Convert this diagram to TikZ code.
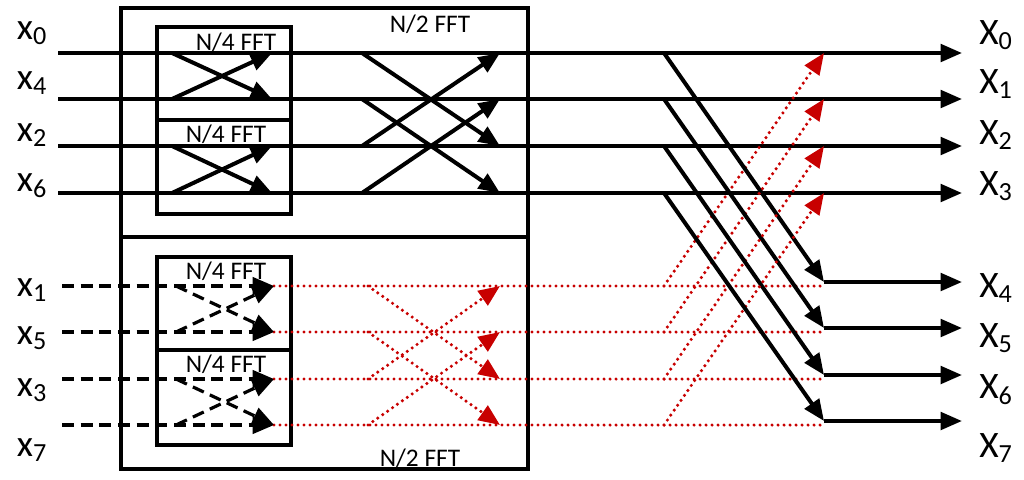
\documentclass[tikz,border=0pt]{standalone}
\usepackage{fontspec}
\setmainfont{Carlito}
\usetikzlibrary{arrows.meta}
\definecolor{fftred}{RGB}{200,0,0}

\begin{document}
\begin{tikzpicture}[x=0.75pt,y=-0.75pt,
    wire/.style={line width=3pt},
    tip/.style={-{Triangle[length=16pt,width=13pt]}},
    dwire/.style={line width=2.4pt, dash pattern=on 9pt off 5pt},
    rwire/.style={line width=2.6pt, fftred, dash pattern=on 0pt off 4.5pt, line cap=round},
    rtip/.style={-{Triangle[length=16pt,width=13pt,fftred]}},
    box/.style={draw, line width=2.4pt},
    lbl/.style={font=\fontsize{19}{19}\selectfont, inner sep=0pt},
    io/.style={font=\fontsize{28}{28}\selectfont, inner sep=0pt}]
\useasboundingbox (0,0) rectangle (1024,479);

% stage boxes
\draw [box] (121,8)   rectangle (528,237);   % upper N/2
\draw [box] (121,237) rectangle (528,469);   % lower N/2
\draw [box] (157,27)  rectangle (291,120);
\draw [box] (157,120) rectangle (291,214);
\draw [box] (157,257) rectangle (291,350);
\draw [box] (157,350) rectangle (291,445);
\node [lbl] (ha) at (430,24)  {N/2 FFT};
\node [lbl] (hb) at (420,458) {N/2 FFT};
\node [lbl] (qa) at (236,42)  {N/4 FFT};
\node [lbl] (qb) at (226,134) {N/4 FFT};
\node [lbl] (qc) at (226,271) {N/4 FFT};
\node [lbl] (qd) at (226,364) {N/4 FFT};

% rows
\foreach \i/\y in {0/53,1/99,2/146,3/193} {
  \coordinate (u\i) at (58,\y);  \coordinate (ua\i) at (172,\y);
  \coordinate (ub\i) at (272,\y); \coordinate (uc\i) at (362,\y);
  \coordinate (ud\i) at (500,\y); \coordinate (ue\i) at (664,\y);
  \coordinate (uf\i) at (824,\y); \coordinate (ug\i) at (962,\y);
}
\foreach \i/\y in {0/286,1/332,2/379,3/425} {
  \coordinate (l\i) at (62,\y);  \coordinate (la\i) at (176,\y);
  \coordinate (lb\i) at (274,\y); \coordinate (lc\i) at (368,\y);
  \coordinate (ld\i) at (500,\y); \coordinate (le\i) at (664,\y);
  \coordinate (lf\i) at (824,\y-4); \coordinate (lg\i) at (962,\y-4);
}

% upper half
\foreach \i in {0,...,3} \draw [wire, tip] (u\i) -- (ug\i);
\draw [wire, tip] (ua0) -- (ub1); \draw [wire, tip] (ua1) -- (ub0);
\draw [wire, tip] (ua2) -- (ub3); \draw [wire, tip] (ua3) -- (ub2);
\foreach \a/\b in {0/2,1/3,2/0,3/1} \draw [wire, tip] (uc\a) -- (ud\b);

% lower half
\foreach \i in {0,...,3} {
  \draw [dwire, tip] (l\i) -- (lb\i);
  \draw [rwire] (lb\i) -- (lf\i |- lb\i);
}
\draw [dwire, tip] (la0) -- (lb1); \draw [dwire, tip] (la1) -- (lb0);
\draw [dwire, tip] (la2) -- (lb3); \draw [dwire, tip] (la3) -- (lb2);
\foreach \a/\b in {0/2,1/3,2/0,3/1} \draw [rwire, rtip] (lc\a) -- (ld\b);

% last stage
\foreach \i in {0,...,3} {
  \draw [rwire, rtip] (le\i) -- (uf\i);
  \draw [wire, tip] (ue\i) -- (lf\i);
  \draw [wire, tip] (lf\i) -- (lg\i);
}

% inputs and outputs
\foreach \n/\y in {0/33,4/83,2/135,6/186,1/290,5/338,3/390,7/450}
  \node [io] (in\n) at (32,\y) {x$_{\mathrm{\n}}$};
\foreach \n/\y in {0/35,1/84,2/135,3/186,4/288,5/338,6/390,7/448}
  \node [io] (out\n) at (996,\y) {X$_{\mathrm{\n}}$};
\end{tikzpicture}
\end{document}
